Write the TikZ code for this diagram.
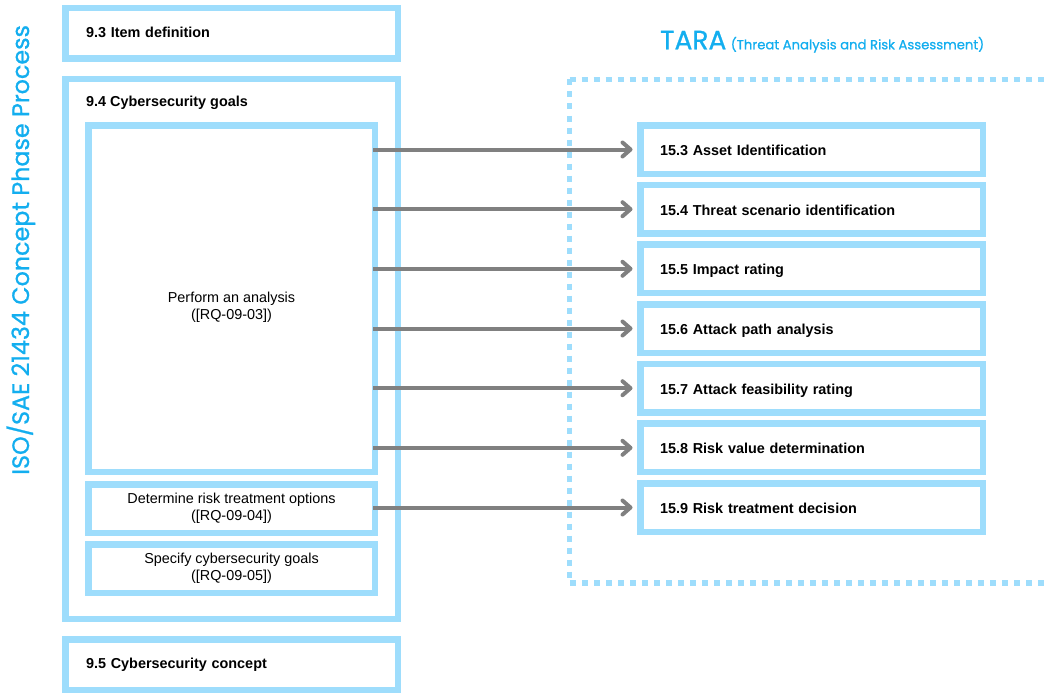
\documentclass[tikz,border=0pt]{standalone}
\usepackage{fontspec}
\setmainfont{Liberation Sans}
\newfontfamily\titlefont{Poppins}[FakeBold=0.9]
\usetikzlibrary{arrows.meta}
\definecolor{bordercol}{HTML}{9EDDFC}
\definecolor{titlecol}{HTML}{13AEEF}
\definecolor{arrowcol}{HTML}{808080}
\begin{document}
\begin{tikzpicture}[x=1pt,y=-1pt,
  box/.style={draw=bordercol, line width=6.5pt, fill=white, inner sep=0pt,
    font=\fontsize{14.4}{17}\selectfont},
  outerbox/.style={box, minimum width=332.5pt},
  titlebox/.style={outerbox, minimum height=50.5pt, text width=291pt, align=left,
    inner xsep=20.75pt, text height=8.8pt, text depth=0pt, font=\fontsize{14.4}{17}\selectfont\bfseries},
  innerbox/.style={box, minimum width=286.5pt, align=center},
  tarabox/.style={box, minimum height=48.5pt, text width=303pt, align=left,
    inner xsep=19.75pt, text height=12pt, text depth=0pt, font=\fontsize{14.4}{17}\selectfont\bfseries},
  plain/.style={inner sep=0pt, font=\fontsize{14.4}{17}\selectfont},
  arr/.style={draw=arrowcol, line width=4pt, -{Straight Barb[length=8pt,width=14pt,round]}, shorten >=4.5pt},
  dotframe/.style={draw=bordercol, line width=5.5pt, dash pattern=on 6pt off 6pt}
]
\useasboundingbox (0,0) rectangle (1045,693);

% vertical title
\node[rotate=90, anchor=base west, inner sep=0pt, text=titlecol,
  font=\titlefont\fontsize{23.8}{28}\selectfont] (vtitle) at (29,475) {ISO/SAE 21434 Concept Phase Process};

% left column
\node[titlebox] (b93) at (231.5,33.5) {9.3 Item definition};
\node[outerbox, minimum height=539.5pt] (b94) at (231.5,349) {};
\node[plain, anchor=base west, font=\fontsize{14.4}{17}\selectfont\bfseries] (t94) at (86,106.5) {9.4 Cybersecurity goals};
\node[innerbox, minimum height=346.5pt] (perf) at (231.5,298.5) {};
\node[plain, align=center] (tperf) at (231.5,307) {Perform an analysis\\([RQ-09-03])};
\node[innerbox, minimum height=48.5pt] (det) at (231.5,508.5) {Determine risk treatment options\\([RQ-09-04])};
\node[innerbox, minimum height=48.5pt] (spec) at (231.5,568.5) {Specify cybersecurity goals\\([RQ-09-05])};
\node[titlebox] (b95) at (231.5,664.5) {9.5 Cybersecurity concept};

% TARA frame and title
\node[anchor=base west, inner sep=0pt, text=titlecol, font=\titlefont\fontsize{26.5}{30}\selectfont] (tara) at (660,49.3) {TARA};
\node[anchor=base west, inner sep=0pt, text=titlecol, font=\titlefont\fontsize{13.2}{15}\selectfont] (tarasub) at ([xshift=4pt]tara.base east) {(Threat Analysis and Risk Assessment)};
\coordinate (fTR) at (1052,79.5);
\coordinate (fTL) at (569.5,79.5);
\coordinate (fBL) at (569.5,583);
\coordinate (fBR) at (1052,583);
\draw[dotframe] (fTL) -- (fTR);
\draw[dotframe] (fTL) -- (fBL) -- (fBR);

% TARA steps
\node[tarabox] (s3) at (811.5,149.5) {15.3 Asset Identification};
\node[tarabox] (s4) at (811.5,209.2) {15.4 Threat scenario identification};
\node[tarabox] (s5) at (811.5,268.8) {15.5 Impact rating};
\node[tarabox] (s6) at (811.5,328.5) {15.6 Attack path analysis};
\node[tarabox] (s7) at (811.5,388.2) {15.7 Attack feasibility rating};
\node[tarabox] (s8) at (811.5,447.8) {15.8 Risk value determination};
\node[tarabox] (s9) at (811.5,507.5) {15.9 Risk treatment decision};

% arrows
\foreach \s in {s3,s4,s5,s6,s7,s8}
  \draw[arr] ([xshift=-5pt]perf.east |- \s.west) -- (\s.west);
\draw[arr] ([xshift=-5pt]det.east |- s9.west) -- (s9.west);
\end{tikzpicture}
\end{document}
